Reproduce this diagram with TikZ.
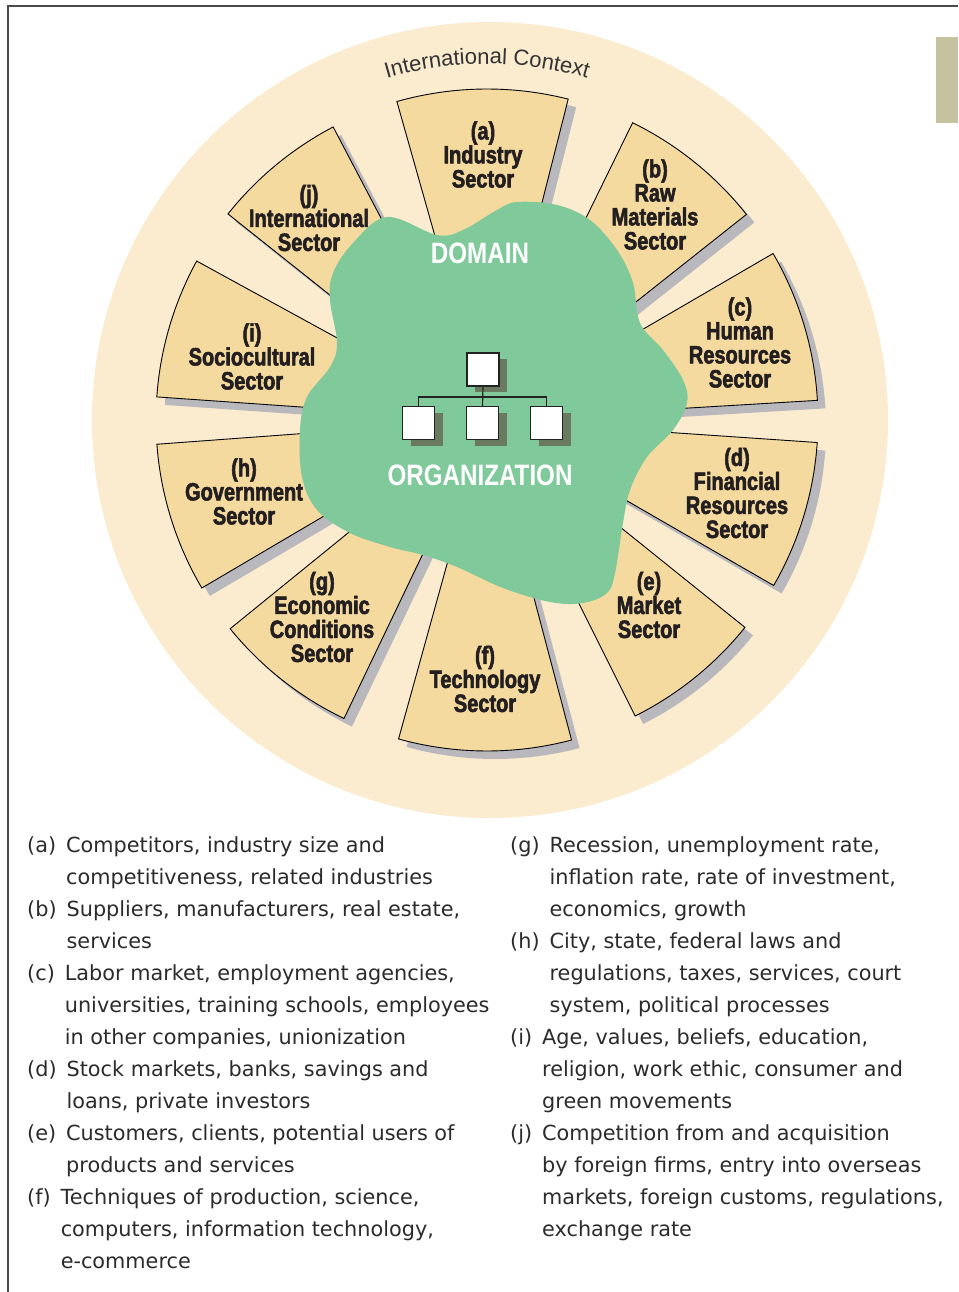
\documentclass[tikz,border=0pt]{standalone}
\usepackage{fontspec}
\setmainfont{DejaVu Sans}
\newfontfamily\secfont[UprightFont={* Bold}, FakeStretch=0.8, FakeBold=2.2]{Liberation Sans}
\newfontfamily\bigfont[FakeStretch=0.82]{Liberation Sans}
\newfontfamily\ctxfamily{Liberation Sans}
\usetikzlibrary{decorations.text,shadows}
\definecolor{ringcol}{HTML}{FBECD0}
\definecolor{secfill}{HTML}{F5DAA0}
\definecolor{secshadow}{HTML}{B8B8BD}
\definecolor{blobcol}{HTML}{80C99B}
\definecolor{orgshadow}{HTML}{6A7A5E}
\definecolor{orgline}{HTML}{222222}
\definecolor{barcol}{HTML}{C5C29F}
\definecolor{framecol}{HTML}{4A4A4A}
\definecolor{labelcol}{HTML}{231F20}
\definecolor{legendcol}{HTML}{2B2B2B}
\definecolor{ctxcol}{HTML}{333333}
\newcommand\ctxfont{\ctxfamily\fontsize{22}{22}\selectfont}
\begin{document}
\begin{tikzpicture}[x=1pt,y=1pt,
  seclabel/.style={font=\secfont\fontsize{25}{24}\selectfont, text=labelcol, align=center, inner sep=0pt},
  bigword/.style={font=\bigfont\bfseries\fontsize{29.5}{30}\selectfont, text=white, inner sep=0pt},
  orgbox/.style={draw=orgline, line width=1.3pt, fill=white, minimum width=32pt, minimum height=33pt, inner sep=0pt,
    drop shadow={shadow xshift=8pt, shadow yshift=-6pt, fill=orgshadow, opacity=1, draw=none}},
  orgwire/.style={draw=orgline, line width=1.2pt},
  legend/.style={font=\fontsize{20.8}{32}\selectfont, text=legendcol, inner sep=0pt, anchor=base west}]
\useasboundingbox (0,0) rectangle (958,-1292);
% frame and tab
\draw[framecol, line width=1.2pt] (8,-1292) -- (8,-6) -- (958,-6);
\fill[barcol] (936,-37) rectangle (958,-123);
% international context ring
\fill[ringcol] (490,-420) circle (398);
\path[decorate, decoration={text along path, text align=center, text color=ctxcol,
  text={|\ctxfont|International Context}}]
  (487,-420) ++(135:356) arc[start angle=135, end angle=45, radius=356];
% sectors
\begin{scope}[shift={(487,-420)}]
  \foreach \s/\e in {75.8/105.8, 38.4/63.9, 3.4/30.2, -30.0/-3.9, -63.4/-38.8,
                     -105.5/-75.2, -140.9/-115.6, -175.8/-149.5, 151.3/176.0, 117.7/141.5}{
    \fill[secshadow, shift={(8,-8)}] (\s:331) arc[start angle=\s, end angle=\e, radius=331]
      -- (\e:130) arc[start angle=\e, end angle=\s, radius=130] -- cycle;
  }
  \foreach \s/\e in {75.8/105.8, 38.4/63.9, 3.4/30.2, -30.0/-3.9, -63.4/-38.8,
                     -105.5/-75.2, -140.9/-115.6, -175.8/-149.5, 151.3/176.0, 117.7/141.5}{
    \filldraw[fill=secfill, draw=black, line width=0.9pt] (\s:331) arc[start angle=\s, end angle=\e, radius=331]
      -- (\e:130) arc[start angle=\e, end angle=\s, radius=130] -- cycle;
  }
\end{scope}
% domain blob
\fill[blobcol] plot[smooth cycle, tension=0.6] coordinates {
  (387,-217) (437,-235) (463,-230) (497,-210) (517,-202) (557,-205) (590,-220)
  (617,-250) (633,-283) (640,-323) (663,-350) (683,-380) (687,-403) (673,-430)
  (647,-457) (630,-490) (623,-523) (615,-573) (607,-593) (583,-603) (550,-602)
  (503,-588) (457,-567) (423,-555) (390,-547) (350,-533) (317,-510) (302,-477)
  (300,-430) (307,-397) (330,-367) (337,-343) (330,-300) (333,-273) (353,-243)};
% sector labels
\node[seclabel] (sa) at (483,-154.5) {(a)\\Industry\\Sector};
\node[seclabel] (sb) at (655,-204.5) {(b)\\Raw\\Materials\\Sector};
\node[seclabel] (sc) at (740,-342.5) {(c)\\Human\\Resources\\Sector};
\node[seclabel] (sd) at (737,-493) {(d)\\Financial\\Resources\\Sector};
\node[seclabel] (se) at (649,-605) {(e)\\Market\\Sector};
\node[seclabel] (sf) at (485,-679) {(f)\\Technology\\Sector};
\node[seclabel] (sg) at (322,-617) {(g)\\Economic\\Conditions\\Sector};
\node[seclabel] (sh) at (244,-491.5) {(h)\\Government\\Sector};
\node[seclabel] (si) at (252,-356.5) {(i)\\Sociocultural\\Sector};
\node[seclabel] (sj) at (309,-218) {(j)\\International\\Sector};
% domain / organization
\node[bigword] (domain) at (480,-253) {DOMAIN};
\node[bigword] (org) at (480,-475) {ORGANIZATION};
% org chart
\node[orgbox] (top) at (483,-369.5) {};
\node[orgbox] (bl) at (418.5,-423) {};
\node[orgbox] (bm) at (482.5,-423) {};
\node[orgbox] (br) at (546.5,-423) {};
\coordinate (jn) at (483,-397);
\draw[orgwire] (top.south) -- (bm.north);
\draw[orgwire] (bl.north) -- (bl.north |- jn) -- (br.north |- jn) -- (br.north);
% legend, left column
\node[legend] (la) at (27,-852.5) {\begin{tabular}[t]{@{}l@{\hspace{10pt}}l@{}}(a)&Competitors, industry size and\\&competitiveness, related industries\end{tabular}};
\node[legend] (lb) at (27,-916.5) {\begin{tabular}[t]{@{}l@{\hspace{10pt}}l@{}}(b)&Suppliers, manufacturers, real estate,\\&services\end{tabular}};
\node[legend] (lc) at (27,-980.5) {\begin{tabular}[t]{@{}l@{\hspace{10pt}}l@{}}(c)&Labor market, employment agencies,\\&universities, training schools, employees\\&in other companies, unionization\end{tabular}};
\node[legend] (ld) at (27,-1076.5) {\begin{tabular}[t]{@{}l@{\hspace{10pt}}l@{}}(d)&Stock markets, banks, savings and\\&loans, private investors\end{tabular}};
\node[legend] (le) at (27,-1140.5) {\begin{tabular}[t]{@{}l@{\hspace{10pt}}l@{}}(e)&Customers, clients, potential users of\\&products and services\end{tabular}};
\node[legend] (lf) at (27,-1204.5) {\begin{tabular}[t]{@{}l@{\hspace{10pt}}l@{}}(f)&Techniques of production, science,\\&computers, information technology,\\&e-commerce\end{tabular}};
% legend, right column
\node[legend] (lg) at (510,-852.5) {\begin{tabular}[t]{@{}l@{\hspace{10pt}}l@{}}(g)&Recession, unemployment rate,\\&inflation rate, rate of investment,\\&economics, growth\end{tabular}};
\node[legend] (lh) at (510,-948.5) {\begin{tabular}[t]{@{}l@{\hspace{10pt}}l@{}}(h)&City, state, federal laws and\\&regulations, taxes, services, court\\&system, political processes\end{tabular}};
\node[legend] (li) at (510,-1044.5) {\begin{tabular}[t]{@{}l@{\hspace{10pt}}l@{}}(i)&Age, values, beliefs, education,\\&religion, work ethic, consumer and\\&green movements\end{tabular}};
\node[legend] (lj) at (510,-1140.5) {\begin{tabular}[t]{@{}l@{\hspace{10pt}}l@{}}(j)&Competition from and acquisition\\&by foreign firms, entry into overseas\\&markets, foreign customs, regulations,\\&exchange rate\end{tabular}};
\end{tikzpicture}
\end{document}
